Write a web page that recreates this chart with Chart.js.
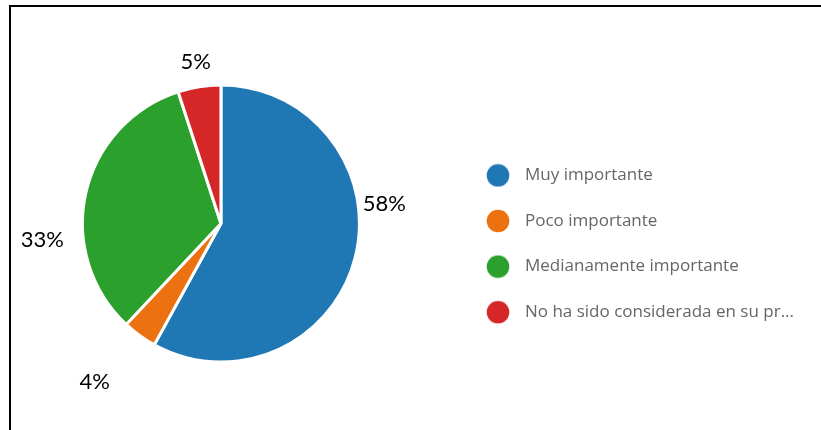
<!DOCTYPE html>
<html>
<head>
<meta charset="utf-8">
<script src="https://cdn.jsdelivr.net/npm/chart.js@4.4.1/dist/chart.umd.min.js"></script>
<style>
    body { margin: 0; background: #fff; overflow: hidden; }
    #grafico { position: absolute; left: -9px; top: 0; }
    #marco {
        position: absolute; left: 9px; top: 5px; width: 900px; height: 500px;
        border-top: 2px solid #000; border-left: 2px solid #000; pointer-events: none;
    }
</style>
</head>
<body>
<canvas id="grafico" width="830" height="430"></canvas>
<div id="marco"></div>
<script>

var categorias = ['Muy importante', 'Poco importante', 'Medianamente importante', 'No ha sido considerada en su pr...'];

var valores = [58, 4, 33, 5];

var colores = ['#1F77B4', '#EC7211', '#2CA02C', '#D62728'];


// donde debe empezar la leyenda (x del canvas)
const inicioLeyenda = 459.9;


// circulo del color para la leyenda
const punto = (color) => {
    const c = document.createElement('canvas');
    c.width = 24;
    c.height = 24;
    const ctx = c.getContext('2d');
    ctx.fillStyle = color;
    ctx.beginPath();
    ctx.arc(12, 12, 11.3, 0, Math.PI * 2);
    ctx.fill();
    return c;
};


// etiquetas de porcentaje fuera de cada porcion
const etiquetasPorcentaje = {
    id: 'etiquetasPorcentaje',
    afterDatasetsDraw(chart, args, opts) {
        const ctx = chart.ctx;
        const meta = chart.getDatasetMeta(0);
        const datos = chart.data.datasets[0].data;
        const total = datos.reduce((a, b) => a + b, 0);
        ctx.save();
        ctx.font = opts.font;
        ctx.fillStyle = opts.color;
        ctx.textAlign = 'center';
        ctx.textBaseline = 'middle';
        meta.data.forEach((arc, i) => {
            const p = arc.getProps(['x', 'y', 'startAngle', 'endAngle', 'outerRadius'], true);
            const ang = (p.startAngle + p.endAngle) / 2 + opts.giro[i] * Math.PI / 180;
            const dist = p.outerRadius + opts.separacion[i];
            const texto = Math.round(datos[i] / total * 100) + '%';
            ctx.fillText(texto, p.x + Math.cos(ang) * dist, p.y + Math.sin(ang) * dist);
        });
        ctx.restore();
    }
};


const data = {
    labels: categorias,
    datasets: [{
        data: valores,
        backgroundColor: colores,
        borderColor: '#ffffff',
        borderWidth: 3,
        radius: 138.5
    }]
};

const chartConfig = {
    type: 'pie',
    data: data,
    plugins: [etiquetasPorcentaje],
    options: {
        responsive: false,
        devicePixelRatio: 1,
        animation: false,
        layout: {
            padding: { left: 0, right: 0, top: 20, bottom: 3 }
        },
        plugins: {
            tooltip: { enabled: false },
            legend: {
                position: 'right',
                align: 'center',
                title: {
                    display: true,
                    text: ' ',
                    font: { size: 10 },
                    padding: { top: 28.6, bottom: 0 }
                },
                labels: {
                    usePointStyle: true,
                    pointStyleWidth: 37,
                    padding: 28.6,
                    color: '#505050',
                    font: { family: 'Open Sans', size: 17 },
                    generateLabels: (chart) => categorias.map((texto, i) => ({
                        text: texto,
                        fillStyle: colores[i],
                        strokeStyle: colores[i],
                        lineWidth: 0,
                        pointStyle: punto(colores[i]),
                        hidden: false,
                        index: i
                    }))
                }
            },
            etiquetasPorcentaje: {
                font: '22px Lato',
                color: '#000000',
                giro: [-21.2, 2.6, -17.9, 0.1],
                separacion: [26, 64, 41, 25]
            }
        }
    }
};


const MostrarGrafico = () => {
    const grafico = new Chart(document.getElementById('grafico'), chartConfig);
    // la leyenda toma su ancho natural; el resto queda como margen derecho
    const ancho = grafico.legend.width;
    grafico.options.layout.padding.right = Math.max(grafico.width - inicioLeyenda - ancho, 0);
    grafico.update();
};

MostrarGrafico();

</script>
</body>
</html>
